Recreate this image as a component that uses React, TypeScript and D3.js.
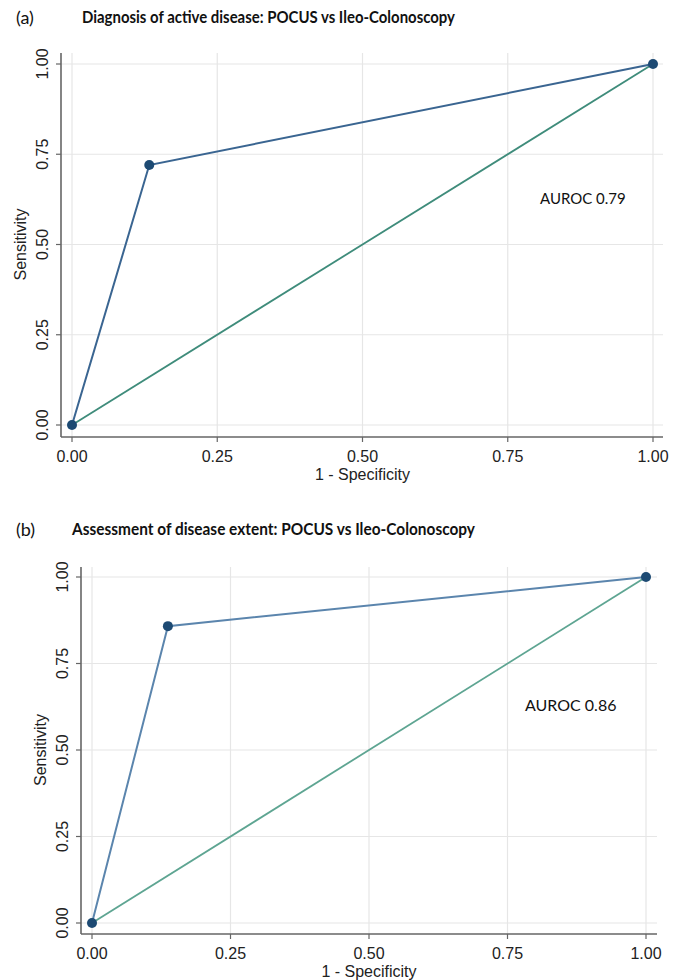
import * as d3 from 'd3'

// ROC points
const fprA = [0, 0.133, 1]
const tprA = [0, 0.72, 1]
const fprB = [0, 0.137, 1]
const tprB = [0, 0.858, 1]
const chance = [0, 1]
const ticks = [0, 0.25, 0.5, 0.75, 1]
const titles = [
  'Diagnosis of active disease: POCUS vs Ileo-Colonoscopy',
  'Assessment of disease extent: POCUS vs Ileo-Colonoscopy',
]
const tags = ['(a)', '(b)']
const aurocs = ['AUROC 0.79', 'AUROC 0.86']

const AXIS_FONT = '"Liberation Sans", Arial, sans-serif'
const TITLE_FONT = 'Lato, "Open Sans", sans-serif'

type PanelProps = {
  idx: number
  fpr: number[]
  tpr: number[]
  box: { x0: number; x1: number; y0: number; y1: number; left: number; right: number; top: number; bottom: number }
  titleY: number
  titleX: number
  titleW: number
  auroc: { x: number; y: number; size: number }
  rocColor: string
  refColor: string
}

function Panel({ idx, fpr, tpr, box, titleY, titleX, titleW, auroc, rocColor, refColor }: PanelProps) {
  const x = d3.scaleLinear().domain([0, 1]).range([box.x0, box.x1])
  const y = d3.scaleLinear().domain([0, 1]).range([box.y0, box.y1])
  const line = d3.line<[number, number]>().x(d => x(d[0])).y(d => y(d[1]))
  const roc = fpr.map((f, i) => [f, tpr[i]] as [number, number])
  const ref = chance.map(c => [c, c] as [number, number])
  const fmt = d3.format('.2f')

  return (
    <g>
      <text x={16} y={titleY} fontFamily={TITLE_FONT} fontSize={18} fill="#111" dominantBaseline="middle">
        {tags[idx]}
      </text>
      <text
        x={titleX}
        y={titleY}
        fontFamily={TITLE_FONT}
        fontWeight={700}
        fontSize={17}
        fill="#111"
        dominantBaseline="middle"
        textLength={titleW}
        lengthAdjust="spacingAndGlyphs"
      >
        {titles[idx]}
      </text>

      {/* grid */}
      {ticks.map(t => (
        <g key={'g' + t}>
          <line x1={box.left} x2={box.right} y1={y(t)} y2={y(t)} stroke="#e6e6e6" strokeWidth={1.2} />
          <line x1={x(t)} x2={x(t)} y1={box.top} y2={box.bottom} stroke="#e6e6e6" strokeWidth={1.2} />
        </g>
      ))}

      {/* axes */}
      <line x1={box.left} x2={box.left} y1={box.top} y2={box.bottom} stroke="#666" strokeWidth={1.6} />
      <line x1={box.left} x2={box.right} y1={box.bottom} y2={box.bottom} stroke="#666" strokeWidth={1.6} />
      {ticks.map(t => (
        <g key={'t' + t} fontFamily={AXIS_FONT} fontSize={16} fill="#222">
          <line x1={box.left - 5} x2={box.left} y1={y(t)} y2={y(t)} stroke="#666" strokeWidth={1.2} />
          <text transform={`translate(${box.left - 13}, ${y(t)}) rotate(-90)`} textAnchor="middle">
            {fmt(t)}
          </text>
          <line x1={x(t)} x2={x(t)} y1={box.bottom} y2={box.bottom + 5} stroke="#666" strokeWidth={1.2} />
          <text x={x(t)} y={box.bottom + 25} textAnchor="middle">
            {fmt(t)}
          </text>
        </g>
      ))}
      <text
        x={(box.x0 + box.x1) / 2}
        y={box.bottom + 43}
        textAnchor="middle"
        fontFamily={AXIS_FONT}
        fontSize={16}
        fill="#222"
      >
        1 - Specificity
      </text>
      <text
        transform={`translate(${box.left - 35}, ${(box.y0 + box.y1) / 2}) rotate(-90)`}
        textAnchor="middle"
        fontFamily={AXIS_FONT}
        fontSize={16}
        fill="#222"
      >
        Sensitivity
      </text>

      {/* curves */}
      <path d={line(ref) || ''} fill="none" stroke={refColor} strokeWidth={1.8} />
      <path d={line(roc) || ''} fill="none" stroke={rocColor} strokeWidth={2} />
      {roc.map((d, i) => (
        <circle key={i} cx={x(d[0])} cy={y(d[1])} r={5} fill="#1d4a73" />
      ))}

      <text x={auroc.x} y={auroc.y} fontFamily={TITLE_FONT} fontSize={auroc.size} fill="#111" dominantBaseline="middle">
        {aurocs[idx]}
      </text>
    </g>
  )
}

export default function App() {
  return (
    <div style={{ position: 'absolute', left: 0, top: 0, background: '#fff' }}>
      <svg width={686} height={980} style={{ display: 'block' }}>
        <rect width={686} height={980} fill="#fff" />
        <Panel
          idx={0}
          fpr={fprA}
          tpr={tprA}
          box={{ x0: 72, x1: 653, y0: 425, y1: 64, left: 61, right: 663, top: 53, bottom: 437 }}
          titleY={19}
          titleX={82}
          titleW={373}
          auroc={{ x: 540, y: 200, size: 15 }}
          rocColor="#3a6591"
          refColor="#3f8c7b"
        />
        <Panel
          idx={1}
          fpr={fprB}
          tpr={tprB}
          box={{ x0: 92, x1: 646, y0: 923, y1: 577, left: 81, right: 657, top: 567, bottom: 934 }}
          titleY={531}
          titleX={72}
          titleW={403}
          auroc={{ x: 525, y: 707, size: 16 }}
          rocColor="#5b85ad"
          refColor="#5ea592"
        />
      </svg>
    </div>
  )
}
